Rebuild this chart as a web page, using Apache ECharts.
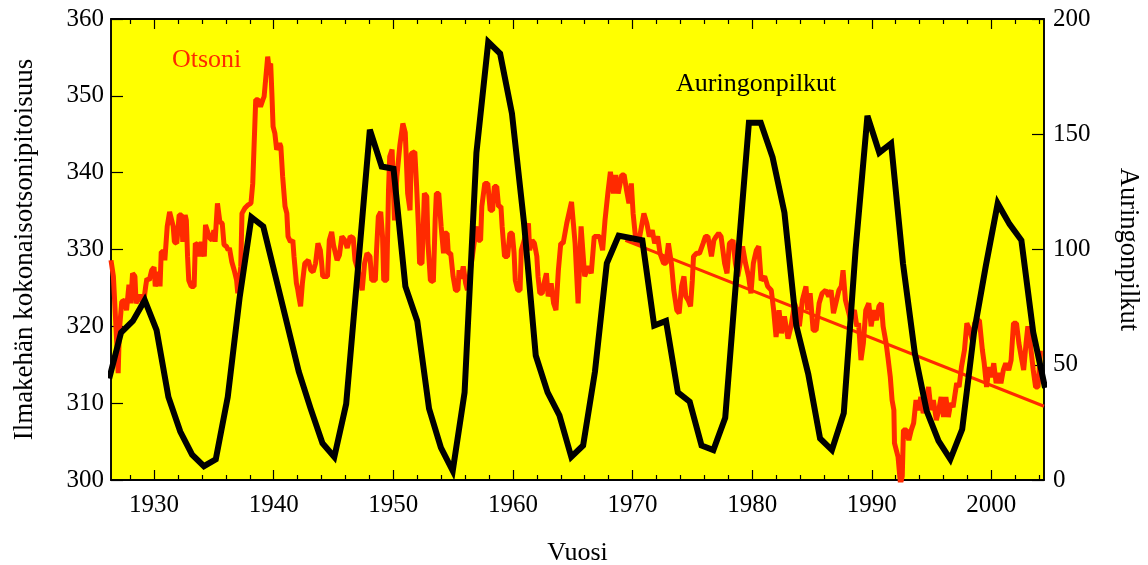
<!DOCTYPE html>
<html>
<head>
<meta charset="utf-8">
<script src="https://cdn.jsdelivr.net/npm/echarts@6/dist/echarts.min.js"></script>
<style>
html,body{margin:0;padding:0;background:#fff;}
#chart{width:1148px;height:565px;}
</style>
</head>
<body>
<div id="chart"></div>
<script>
// ---- Data ----
const xTickLabels = [1930, 1940, 1950, 1960, 1970, 1980, 1990, 2000];
const xMinorTicks = [1928, 1932, 1934, 1936, 1938, 1942, 1944, 1946, 1948, 1952, 1954, 1956, 1958,
  1962, 1964, 1966, 1968, 1972, 1974, 1976, 1978, 1982, 1984, 1986, 1988, 1992, 1994, 1996, 1998, 2002, 2004];

// Sunspot numbers (right axis), at the x positions where they appear in the picture
const spotYears = [1926.25, 1927.24, 1928.23, 1929.22, 1930.21, 1931.2, 1932.19, 1933.18, 1934.17, 1935.16,
  1936.16, 1937.15, 1938.14, 1939.13, 1940.12, 1941.11, 1942.1, 1943.09, 1944.08, 1945.07,
  1946.06, 1947.05, 1948.04, 1949.03, 1950.02, 1951.01, 1952.0, 1952.99, 1953.98, 1954.97,
  1955.96, 1956.95, 1957.94, 1958.93, 1959.92, 1960.92, 1961.91, 1962.9, 1963.89, 1964.88,
  1965.87, 1966.86, 1967.85, 1968.84, 1969.83, 1970.82, 1971.81, 1972.8, 1973.79, 1974.78,
  1975.77, 1976.76, 1977.75, 1978.74, 1979.73, 1980.72, 1981.71, 1982.7, 1983.69, 1984.69,
  1985.68, 1986.67, 1987.66, 1988.65, 1989.64, 1990.63, 1991.62, 1992.61, 1993.6, 1994.59,
  1995.58, 1996.57, 1997.56, 1998.55, 1999.54, 2000.53, 2001.52, 2002.51, 2003.5, 2004.49];
const spotValues = [44, 64, 69, 78, 65, 36, 21, 11, 6, 9,
  36, 79, 114, 110, 89, 68, 47, 31, 16, 10,
  33, 92, 152, 136, 135, 84, 69, 31, 14, 4,
  38, 142, 190, 185, 159, 112, 54, 38, 28, 10,
  15, 47, 94, 106, 105, 104, 67, 69, 38, 34,
  15, 13, 27, 92, 155, 155, 140, 116, 67, 46,
  18, 13, 29, 100, 158, 142, 146, 94, 55, 30,
  17, 9, 22, 64, 93, 120, 111, 104, 64, 40];

// Total ozone (left axis)
const ozoneYears = [1926.4, 1926.6, 1926.8, 1927.0, 1927.1, 1927.3, 1927.55, 1927.7, 1927.9, 1928.05,
  1928.2, 1928.4, 1928.5, 1928.8, 1929.1, 1929.3, 1929.4, 1929.6, 1929.8, 1930.0,
  1930.1, 1930.3, 1930.4, 1930.5, 1930.6, 1930.8, 1930.9, 1931.1, 1931.3, 1931.4,
  1931.6, 1931.7, 1931.9, 1932.1, 1932.3, 1932.4, 1932.6, 1932.7, 1932.8, 1932.9,
  1933.1, 1933.35, 1933.45, 1933.7, 1933.8, 1933.95, 1934.2, 1934.3, 1934.45, 1934.65,
  1934.85, 1935.0, 1935.1, 1935.3, 1935.5, 1935.7, 1935.85, 1936.05, 1936.2, 1936.3,
  1936.5, 1936.7, 1936.9, 1937.0, 1937.25, 1937.35, 1937.6, 1937.85, 1938.1, 1938.25,
  1938.35, 1938.5, 1938.7, 1938.9, 1939.1, 1939.2, 1939.35, 1939.5, 1939.6, 1939.75,
  1939.85, 1939.95, 1940.1, 1940.25, 1940.5, 1940.6, 1940.75, 1940.95, 1941.1, 1941.2,
  1941.4, 1941.6, 1941.7, 1941.9, 1942.0, 1942.1, 1942.25, 1942.4, 1942.6, 1942.9,
  1943.1, 1943.3, 1943.5, 1943.7, 1943.9, 1944.0, 1944.1, 1944.5, 1944.65, 1944.85,
  1945.0, 1945.3, 1945.5, 1945.7, 1945.95, 1946.15, 1946.4, 1946.65, 1946.8, 1947.1,
  1947.4, 1947.6, 1947.8, 1948.05, 1948.2, 1948.5, 1948.6, 1948.75, 1948.95, 1949.1,
  1949.2, 1949.45, 1949.6, 1949.7, 1949.9, 1950.1, 1950.3, 1950.55, 1950.8, 1951.0,
  1951.2, 1951.4, 1951.5, 1951.8, 1951.95, 1952.1, 1952.2, 1952.4, 1952.6, 1952.8,
  1952.9, 1953.1, 1953.35, 1953.5, 1953.6, 1953.8, 1954.0, 1954.2, 1954.3, 1954.5,
  1954.6, 1954.8, 1955.0, 1955.2, 1955.4, 1955.5, 1955.65, 1955.85, 1956.05, 1956.2,
  1956.6, 1956.95, 1957.1, 1957.3, 1957.4, 1957.65, 1957.9, 1958.1, 1958.3, 1958.45,
  1958.65, 1958.8, 1959.0, 1959.1, 1959.3, 1959.55, 1959.75, 1959.95, 1960.1, 1960.2,
  1960.4, 1960.6, 1960.7, 1961.0, 1961.3, 1961.4, 1961.6, 1961.8, 1962.0, 1962.1,
  1962.25, 1962.45, 1962.6, 1962.8, 1962.95, 1963.2, 1963.4, 1963.6, 1963.8, 1964.0,
  1964.2, 1964.5, 1964.9, 1965.2, 1965.45, 1965.7, 1966.0, 1966.3, 1966.55, 1966.8,
  1967.25, 1967.5, 1967.7, 1967.95, 1968.15, 1968.4, 1968.6, 1968.8, 1969.1, 1969.3,
  1969.5, 1969.7, 1969.9, 1970.05, 1970.3, 1970.5, 1970.75, 1970.95, 1971.2, 1971.4,
  1971.65, 1971.85, 1972.1, 1972.3, 1972.6, 1972.8, 1973.0, 1973.25, 1973.45, 1973.7,
  1973.9, 1974.1, 1974.3, 1974.45, 1974.65, 1974.85, 1975.0, 1975.1, 1975.35, 1975.6,
  1975.9, 1976.1, 1976.3, 1976.6, 1976.8, 1977.0, 1977.2, 1977.4, 1977.7, 1977.9,
  1978.1, 1978.4, 1978.6, 1978.8, 1979.0, 1979.2, 1979.45, 1979.7, 1979.9, 1980.1,
  1980.35, 1980.55, 1980.75, 1981.05, 1981.3, 1981.6, 1981.8, 1982.0, 1982.25, 1982.45,
  1982.7, 1983.0, 1983.25, 1983.55, 1983.75, 1983.95, 1984.2, 1984.5, 1984.65, 1984.85,
  1985.1, 1985.35, 1985.6, 1985.85, 1986.15, 1986.4, 1986.6, 1986.8, 1987.0, 1987.25,
  1987.45, 1987.6, 1987.8, 1988.2, 1988.55, 1988.75, 1988.9, 1989.1, 1989.3, 1989.5,
  1989.75, 1989.95, 1990.15, 1990.4, 1990.6, 1990.8, 1990.95, 1991.2, 1991.35, 1991.55,
  1991.7, 1991.85, 1991.9, 1992.2, 1992.4, 1992.55, 1992.65, 1992.9, 1993.1, 1993.3,
  1993.5, 1993.7, 1993.9, 1994.1, 1994.3, 1994.55, 1994.75, 1994.95, 1995.15, 1995.4,
  1995.6, 1995.8, 1996.0, 1996.2, 1996.4, 1996.6, 1996.8, 1997.1, 1997.3, 1997.5,
  1997.75, 1997.95, 1998.2, 1998.4, 1998.6, 1998.8, 1999.0, 1999.25, 1999.4, 1999.6,
  1999.8, 2000.0, 2000.2, 2000.4, 2000.6, 2000.8, 2001.0, 2001.2, 2001.45, 2001.65,
  2001.85, 2002.1, 2002.3, 2002.5, 2002.7, 2002.9, 2003.05, 2003.25, 2003.5, 2003.7,
  2003.9, 2004.1, 2004.3];
const ozoneValues = [328.6, 326.5, 320.4, 313.9, 319.5, 323.2, 323.4, 322.1, 325.4, 323.0,
  326.9, 326.5, 323.0, 324.1, 322.8, 325.2, 326.2, 326.0, 327.3, 327.7,
  325.2, 326.5, 327.1, 325.2, 329.7, 329.7, 328.6, 333.0, 334.9, 334.7,
  333.0, 331.0, 330.8, 334.5, 334.5, 331.0, 334.5, 333.8, 329.1, 326.0,
  325.2, 325.2, 330.8, 330.6, 329.1, 331.0, 329.1, 333.2, 333.4, 331.5,
  331.2, 332.5, 331.0, 336.0, 333.6, 333.4, 330.6, 330.4, 329.9, 330.2,
  328.4, 327.3, 326.0, 324.3, 327.8, 334.7, 335.4, 335.8, 336.0, 338.6,
  343.0, 349.5, 349.5, 348.6, 349.5, 349.9, 352.5, 355.1, 353.8, 354.2,
  350.3, 346.0, 345.1, 343.0, 343.8, 343.4, 339.5, 335.6, 334.7, 331.7,
  331.0, 331.2, 329.1, 325.6, 324.9, 323.9, 322.6, 325.6, 328.2, 328.6,
  327.3, 327.1, 328.2, 330.8, 329.9, 328.4, 326.5, 326.5, 331.2, 332.3,
  330.6, 328.6, 329.3, 331.7, 331.2, 330.2, 331.7, 331.5, 328.6, 327.0,
  324.7, 328.2, 329.5, 329.1, 326.0, 326.0, 329.9, 334.3, 334.9, 331.7,
  326.0, 326.0, 337.7, 342.1, 343.0, 333.8, 339.5, 343.6, 346.4, 345.2,
  337.3, 335.1, 342.5, 342.7, 338.2, 333.0, 328.2, 328.2, 337.3, 336.9,
  330.8, 326.0, 325.8, 333.8, 337.3, 337.3, 333.0, 329.5, 332.1, 332.1,
  329.5, 329.5, 326.5, 324.7, 324.7, 327.3, 326.2, 327.8, 325.6, 324.7,
  329.0, 333.0, 331.2, 331.2, 335.6, 338.6, 338.6, 335.1, 335.1, 338.2,
  338.2, 335.6, 335.6, 333.0, 329.1, 329.1, 332.1, 332.1, 329.5, 326.0,
  324.7, 324.7, 329.9, 331.5, 333.4, 329.9, 331.2, 330.8, 329.1, 326.5,
  324.3, 324.3, 325.6, 326.9, 323.9, 325.6, 323.0, 322.1, 327.3, 330.8,
  330.8, 333.4, 336.2, 330.8, 323.0, 333.0, 326.5, 327.8, 326.9, 331.7,
  331.7, 329.9, 333.8, 337.5, 340.1, 337.3, 339.7, 337.3, 339.7, 339.7,
  337.7, 336.0, 338.6, 334.7, 330.8, 330.8, 333.0, 334.7, 333.4, 331.7,
  332.5, 330.8, 331.7, 329.5, 328.2, 328.2, 330.8, 328.2, 324.7, 322.1,
  321.7, 325.2, 326.5, 323.9, 323.4, 322.6, 326.0, 329.1, 329.5, 329.5,
  330.8, 331.7, 331.7, 329.1, 331.2, 331.7, 332.1, 331.7, 328.2, 326.9,
  330.8, 331.2, 328.2, 326.5, 328.2, 330.4, 328.2, 326.5, 324.3, 328.2,
  329.9, 330.4, 326.0, 326.5, 325.2, 324.7, 322.1, 318.6, 322.1, 319.1,
  321.3, 318.4, 320.0, 323.0, 322.1, 320.0, 323.4, 325.2, 322.1, 324.3,
  319.5, 319.5, 323.0, 324.3, 324.7, 323.9, 324.7, 321.7, 323.0, 324.7,
  325.2, 327.3, 323.4, 321.0, 322.1, 320.0, 320.4, 315.6, 317.8, 322.1,
  323.0, 320.0, 322.1, 320.8, 322.6, 323.0, 320.0, 317.8, 316.0, 313.4,
  310.4, 309.1, 304.8, 303.0, 299.5, 300.5, 306.5, 306.5, 305.2, 306.5,
  307.4, 310.4, 309.1, 310.8, 308.7, 310.4, 312.1, 309.1, 310.4, 307.8,
  309.1, 310.8, 308.2, 310.8, 308.2, 310.0, 309.5, 312.6, 312.1, 314.7,
  316.9, 320.4, 319.5, 318.2, 320.4, 320.8, 320.8, 316.9, 315.2, 312.1,
  314.7, 313.4, 315.2, 312.6, 313.9, 312.6, 314.3, 315.2, 314.3, 315.6,
  320.4, 320.4, 317.8, 316.0, 314.3, 317.8, 320.0, 317.8, 314.3, 312.1,
  312.1, 316.5, 316.5];

// Linear ozone trend line (left axis)
const trendYears = [1969.4, 2004.4];
const trendValues = [331.2, 309.6];

// Axis ranges and texts
const xMin = 1926.4, xMax = 2004.4;
const ozoneAxis = {min: 300, max: 360, interval: 10};
const spotAxis = {min: 0, max: 200, interval: 50};
const leftAxisName = 'Ilmakehän kokonaisotsonipitoisuus';
const rightAxisName = 'Auringonpilkut';
const xAxisName = 'Vuosi';
const ozoneLabel = 'Otsoni';
const spotLabel = 'Auringonpilkut';

// ---- Chart ----
const FONT = "'Liberation Serif', 'DejaVu Serif', serif";
const RED = '#ff2a00';
const pairs = (xs, ys) => xs.map((x, i) => [x, ys[i]]);

const chart = echarts.init(document.getElementById('chart'), null, {renderer: 'canvas'});
const baseX = {
  type: 'value', min: xMin, max: xMax,
  splitLine: {show: false},
  axisLine: {show: true, onZero: false, lineStyle: {color: '#000', width: 1.5}}
};
chart.setOption({
  animation: false,
  backgroundColor: '#ffffff',
  grid: {left: 111, right: 104, top: 19, bottom: 85, show: true,
         outerBoundsMode: 'none', containLabel: false,
         backgroundColor: '#ffff00', borderColor: '#000', borderWidth: 1.5},
  xAxis: [
    Object.assign({}, baseX, {
      position: 'bottom',
      name: xAxisName, nameLocation: 'middle', nameGap: 60,
      nameTextStyle: {fontFamily: FONT, fontSize: 26, color: '#000'},
      axisTick: {show: true, inside: true, length: 10, lineStyle: {color: '#000', width: 1.2},
                 customValues: xTickLabels},
      axisLabel: {show: true, margin: 13, fontFamily: FONT, fontSize: 25, color: '#000',
                  customValues: xTickLabels, formatter: v => String(v)}
    }),
    Object.assign({}, baseX, {
      position: 'bottom',
      axisTick: {show: true, inside: true, length: 5, lineStyle: {color: '#000', width: 1.2},
                 customValues: xMinorTicks},
      axisLabel: {show: false}
    }),
    Object.assign({}, baseX, {
      position: 'top',
      axisTick: {show: true, inside: true, length: 10, lineStyle: {color: '#000', width: 1.2},
                 customValues: xTickLabels},
      axisLabel: {show: false}
    }),
    Object.assign({}, baseX, {
      position: 'top',
      axisTick: {show: true, inside: true, length: 5, lineStyle: {color: '#000', width: 1.2},
                 customValues: xMinorTicks},
      axisLabel: {show: false}
    })
  ],
  yAxis: [
    {
      type: 'value', position: 'left',
      min: ozoneAxis.min, max: ozoneAxis.max, interval: ozoneAxis.interval,
      name: leftAxisName, nameLocation: 'middle', nameGap: 73,
      nameTextStyle: {fontFamily: FONT, fontSize: 27, color: '#000'},
      splitLine: {show: false},
      axisLine: {show: true, lineStyle: {color: '#000', width: 1.5}},
      axisTick: {show: true, inside: true, length: 12, lineStyle: {color: '#000', width: 1.2}},
      axisLabel: {margin: 7, fontFamily: FONT, fontSize: 25, color: '#000'}
    },
    {
      type: 'value', position: 'right',
      min: spotAxis.min, max: spotAxis.max, interval: spotAxis.interval,
      name: rightAxisName, nameLocation: 'middle', nameGap: 70, nameRotate: -90,
      nameTextStyle: {fontFamily: FONT, fontSize: 26.5, color: '#000'},
      splitLine: {show: false},
      axisLine: {show: true, lineStyle: {color: '#000', width: 1.5}},
      axisTick: {show: true, inside: true, length: 12, lineStyle: {color: '#000', width: 1.2}},
      axisLabel: {margin: 9, fontFamily: FONT, fontSize: 25, color: '#000'}
    }
  ],
  series: [
    {
      name: ozoneLabel, type: 'line', xAxisIndex: 0, yAxisIndex: 0,
      data: pairs(ozoneYears, ozoneValues),
      showSymbol: false, symbol: 'none', clip: true, z: 2,
      lineStyle: {color: RED, width: 5, join: 'bevel'}
    },
    {
      name: 'trend', type: 'line', xAxisIndex: 0, yAxisIndex: 0,
      data: pairs(trendYears, trendValues),
      showSymbol: false, symbol: 'none', clip: true, z: 3,
      lineStyle: {color: RED, width: 3}
    },
    {
      name: spotLabel, type: 'line', xAxisIndex: 0, yAxisIndex: 1,
      data: pairs(spotYears, spotValues),
      showSymbol: false, symbol: 'none', clip: true, z: 4,
      lineStyle: {color: '#000', width: 6, join: 'miter', miterLimit: 4}
    }
  ],
  graphic: [
    {type: 'text', left: 172, top: 47, z: 10,
     style: {text: ozoneLabel, fill: RED, font: "26px " + FONT}},
    {type: 'text', left: 676, top: 71, z: 10,
     style: {text: spotLabel, fill: '#000', font: "26px " + FONT}}
  ]
});
</script>
</body>
</html>
